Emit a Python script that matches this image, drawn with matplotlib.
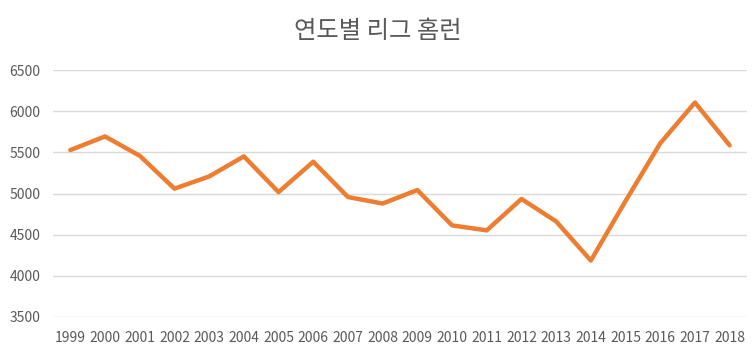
import matplotlib.pyplot as plt

plt.rcParams['font.family'] = ['Noto Sans CJK KR', 'DejaVu Sans']

years = [str(y) for y in range(1999, 2019)]
home_runs = [5528, 5693, 5458, 5059, 5207, 5451, 5017, 5386, 4957, 4878,
             5042, 4613, 4552, 4934, 4661, 4186, 4909, 5610, 6105, 5585]
y_ticks = [3500, 4000, 4500, 5000, 5500, 6000, 6500]

fig = plt.figure(figsize=(7.56, 3.47), dpi=100)
ax = fig.add_axes([53 / 756, 1 - 317 / 347, 694 / 756, 247 / 347])

x = range(len(years))
ax.plot(x, home_runs, color='#ED7D31', linewidth=3.2, solid_joinstyle='round',
        solid_capstyle='round', zorder=3)

ax.set_xlim(-0.5, len(years) - 0.5)
ax.set_ylim(3500, 6500)
ax.set_xticks(list(x))
ax.set_xticklabels(years)
ax.set_yticks(y_ticks)
ax.grid(axis='y', color='#d9d9d9', linewidth=1)
ax.set_axisbelow(True)
for s in ax.spines.values():
    s.set_visible(False)
ax.tick_params(length=0, labelsize=10, colors='#595959')
ax.tick_params(axis='y', pad=9)
ax.tick_params(axis='x', pad=10)

fig.text(0.5, 1 - 31 / 347, '연도별 리그 홈런', ha='center', va='center',
         fontsize=17.5, color='#595959')

fig.savefig('out.png', dpi=100)
